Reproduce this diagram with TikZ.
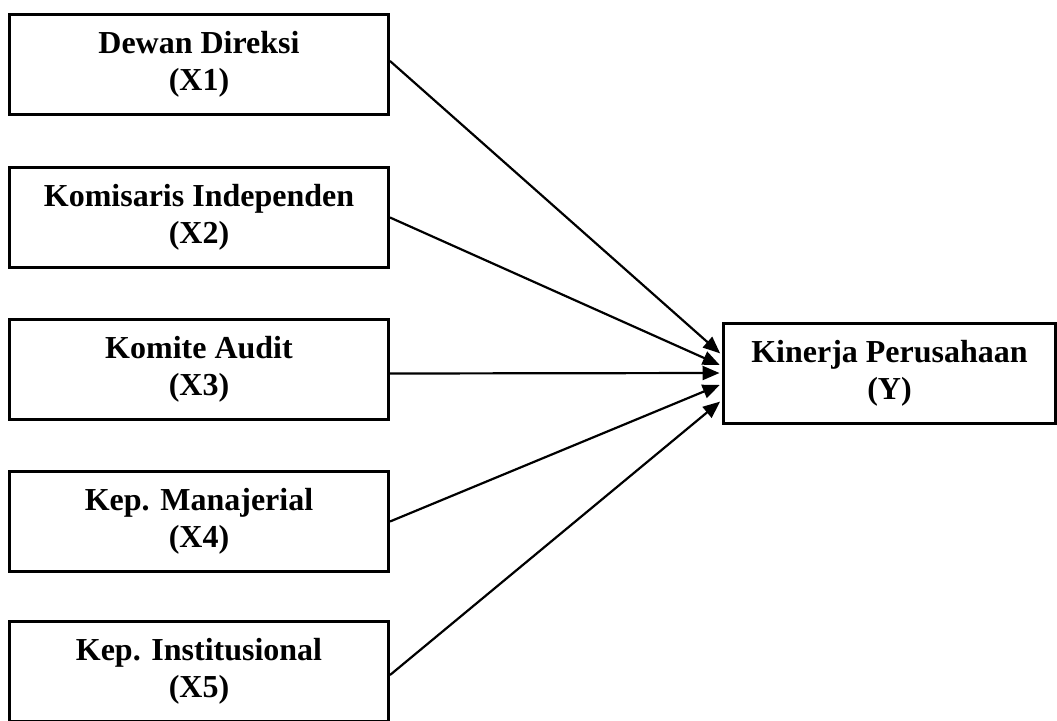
\documentclass[tikz,border=0pt]{standalone}
\usepackage{fontspec}
\setmainfont{Liberation Serif}
\usetikzlibrary{arrows.meta}
\begin{document}
\begin{tikzpicture}[x=1pt,y=-1pt,
  varbox/.style={draw, line width=3pt, minimum width=379pt, minimum height=100pt, inner sep=0pt, align=center,
    font=\fontsize{32}{37}\selectfont\bfseries},
  conn/.style={line width=2.2pt, -{Triangle[length=17pt,width=14pt]}, shorten >=2.5pt}]
\useasboundingbox (0,0) rectangle (1057,720);
\fill[white] (0,0) rectangle (1057,720);
\node[varbox] (x1) at (199,64) {Dewan Direksi\\(X1)};
\node[varbox] (x2) at (199,217.5) {Komisaris Independen\\(X2)};
\node[varbox] (x3) at (199,369.5) {Komite Audit\\(X3)};
\node[varbox] (x4) at (199,521.5) {Kep. Manajerial\\(X4)};
\node[varbox] (x5) at (199,671) {Kep. Institusional\\(X5)};
\node[varbox, minimum width=332pt] (y) at (889.5,373) {Kinerja Perusahaan\\(Y)};
\draw[conn] ([yshift=3pt]x1.east) -- ([yshift=18pt]y.west);
\draw[conn] ([yshift=0pt]x2.east) -- ([yshift=7pt]y.west);
\draw[conn] ([yshift=-4pt]x3.east) -- ([yshift=0pt]y.west);
\draw[conn] ([yshift=0pt]x4.east) -- ([yshift=-11pt]y.west);
\draw[conn] ([yshift=-4pt]x5.east) -- ([yshift=-27pt]y.west);
\end{tikzpicture}
\end{document}
